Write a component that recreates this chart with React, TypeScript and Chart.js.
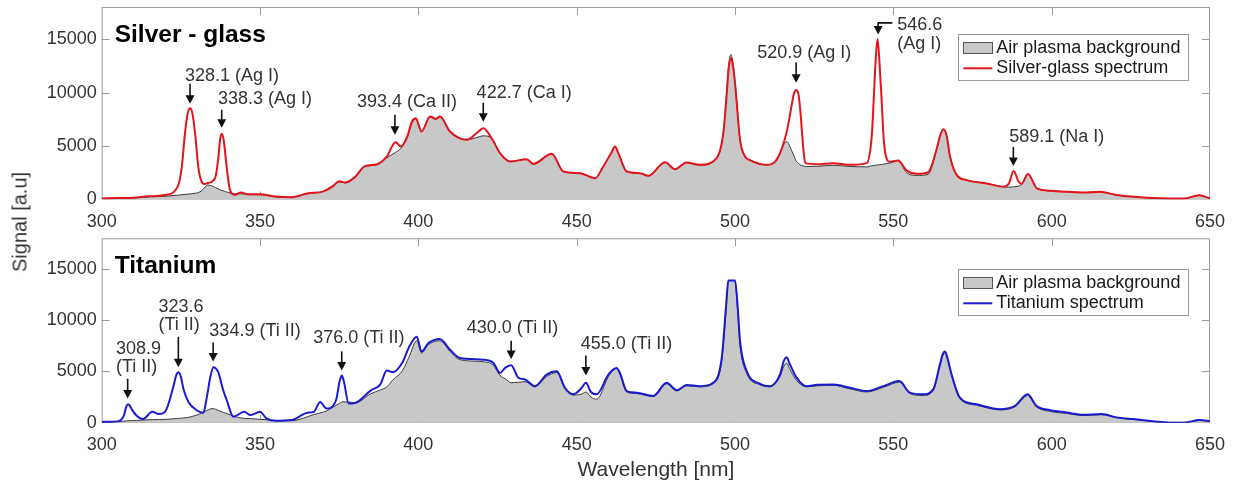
import { useEffect, useRef } from "react";
import { Chart, registerables } from "chart.js";

Chart.register(...registerables);

const FONT = '"Liberation Sans", Arial, Helvetica, sans-serif';

const xTicks = [300, 350, 400, 450, 500, 550, 600, 650];
const yTicks = [0, 5000, 10000, 15000];

// ---- Silver - glass panel ----
const agWavelength = [
  300, 305, 310, 315, 320, 324, 325.3, 326.3, 327.2, 327.9,
  328.6, 329.5, 330.5, 331.5, 332.5, 333.5, 335, 336, 336.8, 337.4,
  337.9, 338.5, 339.2, 339.8, 340.5, 342, 344, 346, 350,
  355, 360, 365, 370, 373, 375, 377, 380,
  383, 387, 390, 392.8, 394.5, 396.5, 398, 399.2, 401, 403.7,
  405.5, 406.8, 410, 415.3, 418.4, 420.5, 423.2, 425.8, 429, 434.2,
  436.3, 442.1, 445.8, 451.1, 455.8, 458.4, 461, 462.1, 463.2, 465.8, 470, 472.6,
  477.9, 481.1, 484.7, 488.9, 494.2, 496.3, 497.4, 498, 498.7, 499.3, 500, 501.6, 503.2, 504.7,
  510, 513.2, 516.3, 518, 518.6, 519.3, 520, 520.6, 521.5, 522.2, 526,
  531, 536.3, 541.6, 543.2, 543.8, 544.3, 545, 545.7, 546.3, 547, 547.7, 548.9, 551.5,
  554.2, 557.4, 561, 563.7, 564.8, 565.8, 566.8, 567.9, 570, 573.2, 579.5, 584.8,
  586.5, 588, 589.5, 590.5, 592.5, 595.4, 599.6, 604.9, 610, 615.4,
  620, 626, 636.5, 641.8, 646.6, 650,
];
const agBackground = [
  100, 120, 150, 250, 300, 400, 450, 480, 500, 520,
  550, 580, 650, 800, 1100, 1350, 1250, 1100, 1000, 900,
  850, 800, 720, 680, 620, 520, 550, 450, 450,
  250, 200, 550, 750, 1200, 1650, 1550, 2050,
  3050, 3250, 3900, 4400, 4800, 5800, 7200, 7500, 6360, 7700,
  7500, 7700, 6300, 5580, 5800, 5950, 5700, 4330, 3550, 3770,
  3330, 4270, 2620, 2460, 1990, 3090, 4400, 4960, 4300, 2620, 2460, 2210,
  3490, 2830, 3460, 3240, 3870, 6200, 10200, 12600, 13550, 12900, 11000, 5560, 4000, 3690,
  3240, 3700, 5420, 4500, 4100, 3600, 3400, 3240, 3150, 3090, 3100,
  3200, 3090, 3050, 3150, 3170, 3200, 3240, 3260, 3280, 3300, 3350, 3400, 3650,
  2500, 2250, 2350, 4740, 6000, 6580, 6000, 4020, 2300, 1810, 1500, 1190,
  1150, 1190, 1250, 1400, 2390, 1030, 810, 720, 650, 720,
  450, 250, 90, 90, 400, 90,
];
const agSpectrum = [
  100, 130, 160, 300, 420, 1200, 3060, 6190, 8100, 8530,
  8100, 6190, 3060, 1700, 1450, 1550, 1700, 2200, 3800, 5600,
  6150, 5600, 3800, 2200, 900, 450, 650, 500, 480,
  280, 220, 560, 760, 1250, 1700, 1600, 2100,
  3100, 3300, 4000, 5350, 4950, 5900, 7300, 7600, 6360, 7760,
  7550, 7760, 6360, 5580, 6200, 6670, 5700, 4330, 3550, 3770,
  3330, 4270, 2620, 2460, 1990, 3090, 4400, 4960, 4300, 2620, 2460, 2210,
  3490, 2830, 3460, 3240, 3870, 6200, 9940, 12300, 13240, 12600, 10900, 5560, 4000, 3690,
  3240, 3750, 6300, 9000, 9900, 10250, 9900, 8400, 5000, 3400, 3300,
  3400, 3240, 3400, 6000, 9300, 12400, 15000, 12400, 9300, 5500, 4000, 3520, 3650,
  2710, 2400, 2550, 4740, 6000, 6580, 6000, 4020, 2300, 1810, 1500, 1190,
  1500, 2670, 1700, 1450, 2390, 1030, 810, 720, 650, 720,
  450, 250, 90, 90, 400, 90,
];

// ---- Titanium panel ----
const tiWavelength = [
  300, 303, 305, 307, 307.7, 308.3, 309, 309.5, 311, 313, 316, 318,
  320, 322.6, 323.5, 324.2, 325, 325.8, 327.4, 330, 332.1, 333.2, 334.4, 335.3, 336, 336.8,
  338.4, 339.5, 341.6, 345, 347, 350, 352, 355, 360, 365,
  367, 369, 371, 374, 375.1, 375.8, 376.5, 378, 380, 385, 388, 390,
  392, 395, 397, 399.5, 401, 403.1, 406.8, 410, 413.1, 420.5,
  423.7, 425.8, 427.4, 429.3, 431.6, 433.7, 436.8, 440.5, 443.7, 446.3,
  448.9, 451.6, 452.9, 454.5, 456.3, 460, 461.5, 462.6, 463.6, 465.8, 468.9, 474.2,
  478.4, 481.6, 484.7, 489, 493.1, 495.8, 497.2, 497.9, 500, 500.8,
  501.6, 503.7, 507.9, 511, 514.2, 515.4, 516.3, 517.2, 519.5, 522.6, 526, 531,
  536.3, 541.6, 546.8, 551.9, 555.2, 559.4, 562.6, 564.7, 565.5, 566.3, 567.1, 568.4,
  571, 576.3, 583.7, 588.4, 592.4, 595.2, 599.5, 604.7, 610, 615.8,
  620.5, 625.8, 636.3, 641.5, 646.8, 650,
];
const tiBackground = [
  0, 50, 100, 150, 170, 190, 195, 200, 220, 250, 300, 310,
  320, 380, 400, 420, 440, 460, 520, 740, 1000, 1200, 1350, 1380, 1300, 1200,
  1000, 900, 650, 420, 400, 320, 300, 200, 190, 580,
  800, 950, 1150, 1700, 1900, 2030, 2030, 2030, 1930, 2830, 3200, 3480,
  4200, 5090, 6380, 8000, 6800, 7600, 8000, 6950, 6150, 5950,
  5600, 4600, 4300, 3900, 3950, 4000, 3500, 4500, 4900, 3300,
  2700, 2800, 3000, 2500, 2290, 4500, 5100, 5300, 4800, 3000, 2850, 2550,
  3800, 3100, 3600, 3500, 3800, 6000, 11000, 13880, 13880, 11000,
  7500, 4800, 3700, 3500, 4500, 5500, 5830, 5300, 4100, 3500, 3600, 3650,
  3300, 3000, 3450, 3950, 2850, 2650, 3150, 5500, 6450, 6850, 6200, 4600,
  2350, 1700, 1250, 1550, 2650, 1550, 1100, 900, 700, 780,
  480, 320, 20, 0, 230, 120,
];
const tiSpectrum = [
  100, 100, 130, 700, 1500, 1800, 1600, 1300, 700, 350, 1060, 840,
  1060, 3480, 4600, 4930, 4500, 3320, 2030, 1220, 970, 2500, 4600, 5410, 5300, 4930,
  3150, 2190, 580, 1060, 740, 1060, 420, 190, 260, 970,
  1060, 2030, 1380, 2190, 4000, 4600, 4000, 1870, 1930, 3160, 3740, 5090,
  4930, 5890, 7340, 8400, 6950, 7750, 8180, 7120, 6310, 6150,
  5830, 4860, 5350, 5600, 4380, 4220, 3570, 4700, 5020, 3410,
  2770, 3410, 3900, 3000, 2770, 4700, 5200, 5350, 4900, 3090, 2930, 2610,
  3900, 3160, 3670, 3570, 3900, 6310, 11500, 13880, 13880, 11500,
  7920, 5020, 3800, 3570, 4700, 6000, 6380, 5800, 4380, 3570, 3700, 3730,
  3410, 3090, 3570, 4060, 2930, 2770, 3250, 5670, 6600, 6950, 6300, 4700,
  2450, 1800, 1320, 1640, 2770, 1640, 1220, 1000, 770, 840,
  520, 350, 30, 0, 260, 130,
];

type Marker = {
  lines: string[];
  x: number; // arrow wavelength
  from: number; // arrow tail value
  to: number; // arrow tip value
  tx: number; // text left wavelength
  ty: number[]; // text line centre values
  elbowX?: number;
};

const agMarkers: Marker[] = [
  { lines: ["328.1 (Ag I)"], x: 327.9, from: 10830, to: 8950, tx: 326.3, ty: [11580] },
  { lines: ["338.3 (Ag I)"], x: 337.9, from: 8390, to: 6700, tx: 336.7, ty: [9420] },
  { lines: ["393.4 (Ca II)"], x: 392.6, from: 7920, to: 6050, tx: 380.6, ty: [9140] },
  { lines: ["422.7 (Ca I)"], x: 420.5, from: 9050, to: 7270, tx: 418.4, ty: [9980] },
  { lines: ["520.9 (Ag I)"], x: 519.3, from: 12800, to: 10920, tx: 507.0, ty: [13730] },
  { lines: ["546.6", "(Ag I)"], x: 545.2, from: 16520, to: 15420, elbowX: 549.7, tx: 551.2, ty: [16360, 14580] },
  { lines: ["589.1 (Na I)"], x: 587.9, from: 4920, to: 3140, tx: 586.6, ty: [5860] },
];

const tiMarkers: Marker[] = [
  { lines: ["308.9", "(Ti II)"], x: 308.2, from: 4290, to: 2360, tx: 304.5, ty: [7190, 5420] },
  { lines: ["323.6", "(Ti II)"], x: 324.2, from: 8380, to: 5420, tx: 317.9, ty: [11290, 9520] },
  { lines: ["334.9 (Ti II)"], x: 335.2, from: 7830, to: 5970, tx: 334.0, ty: [8960] },
  { lines: ["376.0 (Ti II)"], x: 375.8, from: 6960, to: 5100, tx: 366.8, ty: [8260] },
  { lines: ["430.0 (Ti II)"], x: 429.3, from: 8000, to: 6230, tx: 415.3, ty: [9280] },
  { lines: ["455.0 (Ti II)"], x: 452.9, from: 6550, to: 4610, tx: 451.3, ty: [7680] },
];

type PanelProps = {
  top: number;
  height: number;
  padTop: number;
  axisHeight: number;
  wl: number[];
  bg: number[];
  sig: number[];
  color: string;
  title: string;
  legendLabel: string;
  legendTop: number;
  markers: Marker[];
  xTitle?: string;
};

function makeDecor(p: PanelProps) {
  return {
    id: "decor",
    beforeDatasetsDraw(chart: any) {
      const { ctx, chartArea: a, scales } = chart;
      ctx.save();
      ctx.strokeStyle = "#9c9c9c";
      ctx.lineWidth = 1;
      ctx.strokeRect(a.left + 0.5, a.top + 0.5, a.right - a.left - 1, a.bottom - a.top - 1);
      ctx.beginPath();
      for (const v of xTicks) {
        const px = Math.round(scales.x.getPixelForValue(v)) + 0.5;
        if (px <= a.left + 2 || px >= a.right - 2) continue;
        ctx.moveTo(px, a.bottom);
        ctx.lineTo(px, a.bottom - 8);
        ctx.moveTo(px, a.top);
        ctx.lineTo(px, a.top + 8);
      }
      for (const v of yTicks) {
        const py = Math.round(scales.y.getPixelForValue(v)) + 0.5;
        if (py <= a.top + 2 || py >= a.bottom - 2) continue;
        ctx.moveTo(a.left, py);
        ctx.lineTo(a.left + 8, py);
        ctx.moveTo(a.right, py);
        ctx.lineTo(a.right - 8, py);
      }
      ctx.stroke();
      ctx.restore();
    },
    afterDatasetsDraw(chart: any) {
      const { ctx, chartArea: a, scales } = chart;
      const xs = scales.x;
      const ys = scales.y;
      ctx.save();
      for (const m of p.markers) {
        const px = xs.getPixelForValue(m.x);
        const p1 = ys.getPixelForValue(m.from);
        const p2 = ys.getPixelForValue(m.to);
        ctx.strokeStyle = "#111";
        ctx.fillStyle = "#111";
        ctx.lineWidth = 1.6;
        ctx.beginPath();
        if (m.elbowX !== undefined) {
          ctx.moveTo(xs.getPixelForValue(m.elbowX), p1);
          ctx.lineTo(px, p1);
        } else {
          ctx.moveTo(px, p1);
        }
        ctx.lineTo(px, p2 - 7);
        ctx.stroke();
        ctx.beginPath();
        ctx.moveTo(px - 4.5, p2 - 8.5);
        ctx.lineTo(px + 4.5, p2 - 8.5);
        ctx.lineTo(px, p2);
        ctx.closePath();
        ctx.fill();
        ctx.fillStyle = "#333";
        ctx.font = `18px ${FONT}`;
        ctx.textAlign = "left";
        ctx.textBaseline = "middle";
        m.lines.forEach((line, i) => {
          ctx.fillText(line, xs.getPixelForValue(m.tx), ys.getPixelForValue(m.ty[i]));
        });
      }
      ctx.fillStyle = "#000";
      ctx.font = `bold 24.5px ${FONT}`;
      ctx.textAlign = "left";
      ctx.textBaseline = "alphabetic";
      ctx.fillText(p.title, a.left + 13, a.top + 34.5);
      const lw = 230;
      const lh = 45.7;
      const lx = a.right - 251.7;
      const ly = a.top + p.legendTop;
      ctx.fillStyle = "#fff";
      ctx.fillRect(lx, ly, lw, lh);
      ctx.strokeStyle = "#9c9c9c";
      ctx.lineWidth = 1;
      ctx.strokeRect(Math.round(lx) + 0.5, Math.round(ly) + 0.5, lw, Math.round(lh));
      const r1 = ly + 13.4;
      const r2 = ly + 34;
      ctx.fillStyle = "#c8c8c8";
      ctx.fillRect(lx + 5, r1 - 5.5, 29, 11);
      ctx.strokeStyle = "#555";
      ctx.strokeRect(Math.round(lx + 5) + 0.5, Math.round(r1 - 5.5) + 0.5, 29, 11);
      ctx.strokeStyle = p.color;
      ctx.lineWidth = 2;
      ctx.beginPath();
      ctx.moveTo(lx + 5, r2);
      ctx.lineTo(lx + 34, r2);
      ctx.stroke();
      ctx.fillStyle = "#1a1a1a";
      ctx.font = `18px ${FONT}`;
      ctx.textBaseline = "middle";
      ctx.fillText("Air plasma background", lx + 38, r1);
      ctx.fillText(p.legendLabel, lx + 38, r2);
      ctx.restore();
    },
  };
}

function Panel(p: PanelProps) {
  const ref = useRef<HTMLCanvasElement>(null);
  useEffect(() => {
    const chart = new Chart(ref.current as HTMLCanvasElement, {
      type: "line",
      data: {
        datasets: [
          {
            label: p.legendLabel,
            data: p.wl.map((x, i) => ({ x, y: p.sig[i] })),
            borderColor: p.color,
            borderWidth: 2,
            fill: false,
            order: 0,
          },
          {
            label: "Air plasma background",
            data: p.wl.map((x, i) => ({ x, y: p.bg[i] })),
            borderColor: "#3c3c3c",
            backgroundColor: "#c8c8c8",
            borderWidth: 1,
            fill: "origin",
            order: 1,
          },
        ],
      },
      options: {
        responsive: false,
        animation: false,
        devicePixelRatio: 1,
        layout: { padding: { left: 0, right: 26, top: p.padTop, bottom: 0 } },
        elements: {
          point: { radius: 0, hoverRadius: 0 },
          line: { cubicInterpolationMode: "monotone" },
        },
        plugins: {
          legend: { display: false },
          tooltip: { enabled: false },
        },
        events: [],
        scales: {
          x: {
            type: "linear",
            min: 300,
            max: 650,
            grid: { display: false, drawTicks: false },
            border: { display: false },
            afterBuildTicks: (s: any) => {
              s.ticks = xTicks.map((v) => ({ value: v }));
            },
            afterFit: (s: any) => {
              s.height = p.axisHeight;
              s.paddingLeft = 0;
              s.paddingRight = 0;
            },
            ticks: {
              padding: 12,
              color: "#333",
              font: { family: FONT, size: 18 },
              maxRotation: 0,
              autoSkip: false,
              callback: (v: any) => String(v),
            },
            title: p.xTitle
              ? {
                  display: true,
                  text: p.xTitle,
                  color: "#333",
                  font: { family: FONT, size: 21 },
                  padding: { top: 0, bottom: 1 },
                }
              : { display: false },
          },
          y: {
            type: "linear",
            min: 0,
            max: 18000,
            grid: { display: false, drawTicks: false },
            border: { display: false },
            afterBuildTicks: (s: any) => {
              s.ticks = yTicks.map((v) => ({ value: v }));
            },
            afterFit: (s: any) => {
              s.width = 101.7;
              s.paddingTop = 0;
              s.paddingBottom = 0;
            },
            ticks: {
              padding: 5,
              color: "#333",
              font: { family: FONT, size: 18 },
              callback: (v: any) => String(v),
            },
          },
        },
      } as any,
      plugins: [makeDecor(p)],
    });
    return () => chart.destroy();
  }, []);
  return (
    <canvas
      ref={ref}
      width={1236}
      height={p.height}
      style={{ position: "absolute", left: 0, top: p.top, width: 1236, height: p.height }}
    />
  );
}

export default function App() {
  return (
    <div style={{ position: "absolute", left: 0, top: 0, width: 1236, height: 484, background: "#fff" }}>
      <Panel
        top={0}
        height={232}
        padTop={7}
        axisHeight={32.5}
        wl={agWavelength}
        bg={agBackground}
        sig={agSpectrum}
        color="#e3141c"
        title="Silver - glass"
        legendLabel="Silver-glass spectrum"
        legendTop={27.3}
        markers={agMarkers}
      />
      <Panel
        top={232}
        height={252}
        padTop={6.3}
        axisHeight={61.3}
        wl={tiWavelength}
        bg={tiBackground}
        sig={tiSpectrum}
        color="#1a1ad2"
        title="Titanium"
        legendLabel="Titanium spectrum"
        legendTop={31}
        markers={tiMarkers}
        xTitle="Wavelength [nm]"
      />
      <div
        style={{
          position: "absolute",
          left: 20,
          top: 222,
          transform: "translate(-50%, -50%) rotate(-90deg)",
          font: `20px ${FONT}`,
          color: "#333",
          whiteSpace: "nowrap",
        }}
      >
        Signal [a.u]
      </div>
    </div>
  );
}
